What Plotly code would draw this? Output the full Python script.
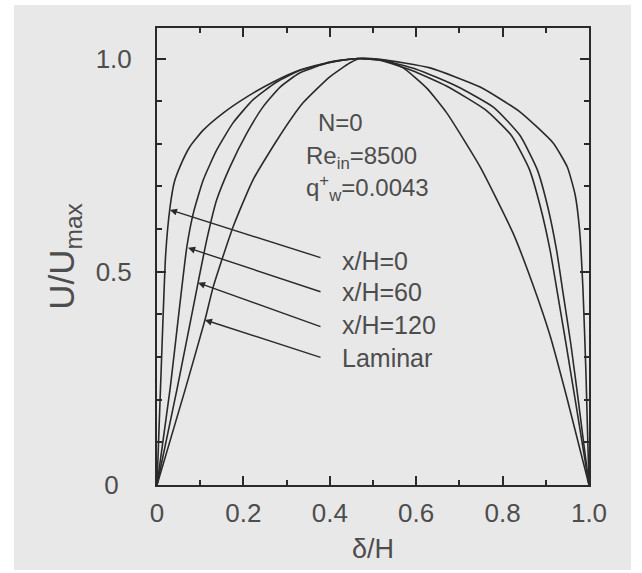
import plotly.graph_objects as go

# ---- data ----
x_h0 = [0, 0.010, 0.020, 0.030, 0.040, 0.053, 0.076, 0.107, 0.153, 0.208, 0.269, 0.331,
        0.408, 0.465, 0.516, 0.632, 0.748, 0.840, 0.917, 0.950, 0.968, 0.978, 0.986, 0.993, 1.0]
u_h0 = [0, 0.28, 0.54, 0.65, 0.71, 0.746, 0.793, 0.832, 0.872, 0.91, 0.945, 0.973,
        0.992, 1.0, 0.998, 0.978, 0.933, 0.875, 0.802, 0.745, 0.68, 0.60, 0.46, 0.26, 0]

x_h60 = [0, 0.030, 0.069, 0.084, 0.107, 0.138, 0.176, 0.222, 0.277, 0.33, 0.40, 0.465,
         0.52, 0.60, 0.694, 0.780, 0.840, 0.880, 0.905, 0.925, 0.940, 0.958, 0.975, 1.0]
u_h60 = [0, 0.223, 0.558, 0.637, 0.715, 0.785, 0.849, 0.903, 0.945, 0.972, 0.992, 1.0,
         0.996, 0.975, 0.935, 0.885, 0.82, 0.74, 0.65, 0.55, 0.45, 0.33, 0.20, 0]

x_h120 = [0, 0.046, 0.095, 0.115, 0.138, 0.169, 0.208, 0.245, 0.285, 0.33, 0.40, 0.465,
          0.52, 0.59, 0.671, 0.760, 0.820, 0.862, 0.888, 0.910, 0.927, 0.947, 0.968, 1.0]
u_h120 = [0, 0.223, 0.474, 0.574, 0.668, 0.746, 0.825, 0.886, 0.933, 0.966, 0.991, 1.0,
          0.995, 0.972, 0.935, 0.88, 0.82, 0.74, 0.65, 0.55, 0.45, 0.33, 0.20, 0]

x_lam = [0, 0.065, 0.111, 0.130, 0.176, 0.222, 0.278, 0.338, 0.400, 0.447, 0.47, 0.53,
         0.57, 0.625, 0.671, 0.748, 0.824, 0.870, 0.910, 0.950, 1.0]
u_lam = [0, 0.223, 0.387, 0.464, 0.605, 0.715, 0.809, 0.896, 0.957, 0.99, 1.0, 0.995,
         0.978, 0.93, 0.872, 0.746, 0.591, 0.47, 0.35, 0.20, 0]

series_names = ["x/H=0", "x/H=60", "x/H=120", "Laminar"]
series_x = [x_h0, x_h60, x_h120, x_lam]
series_u = [u_h0, u_h60, u_h120, u_lam]

# arrow tips (on curves) and tails, label anchor positions
arrow_tip_x = [0.030, 0.072, 0.095, 0.111]
arrow_tip_u = [0.645, 0.556, 0.474, 0.387]
arrow_tail_x = [0.382, 0.382, 0.382, 0.382]
arrow_tail_u = [0.532, 0.452, 0.370, 0.298]
label_x = [0.424, 0.424, 0.424, 0.424]
label_u = [0.525, 0.452, 0.375, 0.298]

info_lines = ["N=0", "Re<sub>in</sub>=8500", "q<sup>+</sup><sub>w</sub>=0.0043"]
info_x = [0.425, 0.340, 0.340]
info_u = [0.849, 0.768, 0.697]
info_anchor = ["center", "left", "left"]

x_tick_values = [0, 0.2, 0.4, 0.6, 0.8, 1.0]
x_tick_labels = ["0", "0.2", "0.4", "0.6", "0.8", "1.0"]
y_tick_values = [0, 0.5, 1.0]
y_tick_labels = ["0\u2002", "0.5", "1.0"]

BG = "#e8e8e8"
INK = "#2a2a2a"
TXT = "#4d4d4d"
FONT = "Liberation Sans"

fig = go.Figure()
for name, xs, us in zip(series_names, series_x, series_u):
    fig.add_trace(go.Scatter(x=xs, y=us, mode="lines", name=name,
                             line=dict(color=INK, width=1.6, shape="spline", smoothing=0.5),
                             showlegend=False, hoverinfo="skip"))

annotations = []
for tx, tu, ax, au in zip(arrow_tip_x, arrow_tip_u, arrow_tail_x, arrow_tail_u):
    annotations.append(dict(x=tx, y=tu, ax=ax, ay=au, xref="x", yref="y", axref="x", ayref="y",
                            text="", showarrow=True, arrowhead=2, arrowsize=1.0,
                            arrowwidth=1.4, arrowcolor=INK, standoff=0, startstandoff=0))
for name, lx, lu in zip(series_names, label_x, label_u):
    annotations.append(dict(x=lx, y=lu, xref="x", yref="y", text=name, showarrow=False,
                            xanchor="left", yanchor="middle",
                            font=dict(family=FONT, size=25, color=TXT)))
for t, ix, iu, anc in zip(info_lines, info_x, info_u, info_anchor):
    annotations.append(dict(x=ix, y=iu, xref="x", yref="y", text=t, showarrow=False,
                            xanchor=anc, yanchor="middle",
                            font=dict(family=FONT, size=24, color=TXT)))

x_alias = {f"{v:.1f}": t for v, t in zip(x_tick_values, x_tick_labels)}
y_alias = {f"{v:.1f}": t for v, t in zip(y_tick_values, y_tick_labels)}

fig.update_layout(
    width=642, height=573,
    margin=dict(l=157, r=53, t=28, b=88),
    paper_bgcolor="white", plot_bgcolor=BG,
    font=dict(family=FONT, color=TXT),
    annotations=annotations,
    shapes=[dict(type="rect", xref="paper", yref="paper", layer="below",
                 x0=(14 - 157) / 432, x1=(631 - 157) / 432,
                 y0=(485 - 570) / 457, y1=(485 - 5) / 457,
                 fillcolor=BG, line=dict(width=0))],
    xaxis=dict(range=[0, 1.0], tickmode="linear", tick0=0, dtick=0.2,
               tickformat=".1f", labelalias=x_alias,
               ticks="inside", ticklen=9, tickwidth=1.5, tickcolor=INK,
               minor=dict(dtick=0.1, tick0=0, ticks="inside", ticklen=5, tickwidth=1.5, tickcolor=INK),
               showline=True, linecolor=INK, linewidth=2, mirror="ticks",
               showgrid=False, zeroline=False, ticklabelstandoff=4,
               tickfont=dict(family=FONT, size=26, color=TXT),
               title=dict(text="δ/H", font=dict(family=FONT, size=27, color=TXT), standoff=12)),
    yaxis=dict(range=[0, 1.0715], tickmode="linear", tick0=0, dtick=0.5,
               tickformat=".1f", labelalias=y_alias,
               ticks="inside", ticklen=9, tickwidth=1.5, tickcolor=INK,
               minor=dict(dtick=0.1, tick0=0, ticks="inside", ticklen=5, tickwidth=1.5, tickcolor=INK),
               showline=True, linecolor=INK, linewidth=2, mirror="ticks",
               showgrid=False, zeroline=False, ticklabelstandoff=18,
               tickfont=dict(family=FONT, size=26, color=TXT),
               title=dict(text="U/U<sub>max</sub>", font=dict(family=FONT, size=35, color=TXT), standoff=10)),
)

fig.write_html("out.html", config={"displayModeBar": False},
               post_script="document.body.style.margin='0';document.body.style.overflow='hidden';")
